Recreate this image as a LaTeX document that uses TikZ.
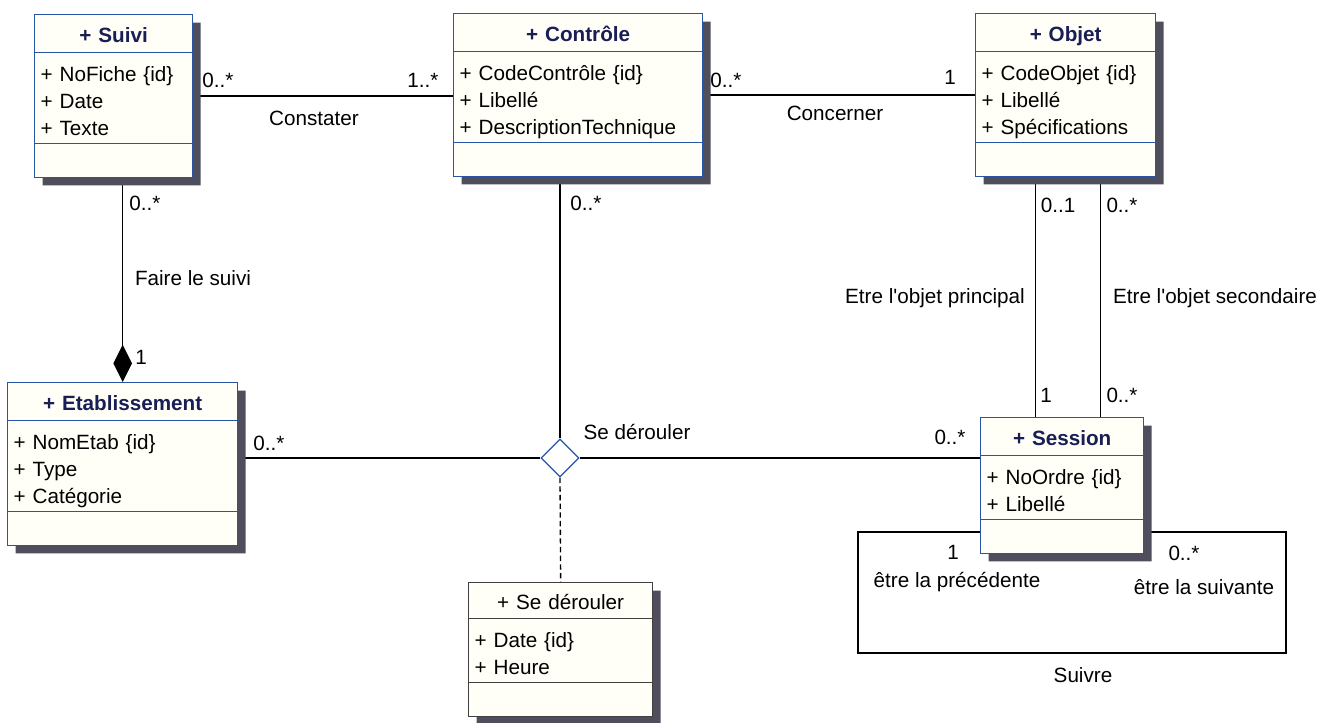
\documentclass[tikz,border=0pt]{standalone}
\usepackage{fontspec}
\setmainfont{Liberation Sans}
\usetikzlibrary{shapes.multipart,shapes.geometric,shadows,arrows.meta,backgrounds}
\setlength{\parindent}{0pt}

\definecolor{bordclasse}{RGB}{40,85,165}
\definecolor{titreclasse}{RGB}{25,30,85}
\definecolor{fondclasse}{RGB}{255,255,247}
\definecolor{ombre}{RGB}{78,78,92}

\newcommand{\titre}[1]{\rule[-7pt]{0pt}{27.5pt}\makebox[\linewidth][c]{\textcolor{titreclasse}{\textbf{#1}}}}
\newcommand{\titreassoc}[1]{\rule[-6.5pt]{0pt}{26pt}\makebox[\linewidth][c]{#1}}
\newcommand{\debattr}{\rule{0pt}{21pt}}
\newcommand{\finattr}{\rule[-5.5pt]{0pt}{0pt}}
\newcommand{\vide}{\rule{0pt}{24.5pt}}

\begin{document}
\begin{tikzpicture}[x=0.75pt,y=-0.75pt]
	\tikzstyle{classe} = [rectangle split, rectangle split parts=3, draw=bordclasse, fill=fondclasse, line width=1pt, inner xsep=4.5pt, inner ysep=0pt, anchor=north west, font=\fontsize{15.5}{20.25}\selectfont, drop shadow={shadow xshift=6pt, shadow yshift=-6pt, fill=ombre, opacity=1}]
	\tikzstyle{lien} = [line width=1pt]
	\tikzstyle{card} = [font=\fontsize{15.5}{18}\selectfont, inner sep=0pt]
	\tikzstyle{losange} = [diamond, draw=bordclasse, fill=white, line width=1pt, minimum width=28.5pt, minimum height=28.5pt, inner sep=0pt]

	\useasboundingbox (0,0) rectangle (1335,723);

%----------Les classes------------------------------
	\node[classe, text width=109.5pt] (suivi) at (34,14) {\titre{+ Suivi}
		\nodepart{two}\debattr+ NoFiche \{id\}\\+ Date\\+ Texte\finattr
		\nodepart{three}\vide};

	\node[classe, text width=177.75pt] (controle) at (453,13) {\titre{+ Contrôle}
		\nodepart{two}\debattr+ CodeContrôle \{id\}\\+ Libellé\\+ DescriptionTechnique\finattr
		\nodepart{three}\vide};

	\node[classe, text width=126pt] (objet) at (975,13) {\titre{+ Objet}
		\nodepart{two}\debattr+ CodeObjet \{id\}\\+ Libellé\\+ Spécifications\finattr
		\nodepart{three}\vide};

	\node[classe, text width=163.5pt] (etablissement) at (7,382) {\titre{+ Etablissement}
		\nodepart{two}\debattr+ NomEtab \{id\}\\+ Type\\+ Catégorie\finattr
		\nodepart{three}\vide};

	\node[classe, text width=113.25pt] (session) at (980,417) {\titre{+ Session}
		\nodepart{two}\debattr+ NoOrdre \{id\}\\+ Libellé\finattr
		\nodepart{three}\vide};

	\node[classe, draw=black!75, text width=129pt] (sederouler) at (468,582) {\titreassoc{+ Se dérouler}
		\nodepart{two}\debattr+ Date \{id\}\\+ Heure\finattr
		\nodepart{three}\vide};

	\node[losange] (assoc) at (560,458) {};

%----------Les associations------------------------------
	\coordinate (bouclehg) at (858,532);
	\coordinate (bouclebg) at (858,653);
	\coordinate (bouclebd) at (1286,653);
	\coordinate (bouclehd) at (1286,532);

	\begin{scope}[on background layer]
	\draw[lien] (suivi.east) -- (suivi.east -| controle.west);
	\draw[lien] (controle.east) -- (controle.east -| objet.west);
	\draw[lien, -{Diamond[length=28pt, width=14pt]}] (etablissement.north |- suivi.south) -- (etablissement.north);
	\draw[lien] (assoc.north) -- (assoc.north |- controle.south);
	\draw[lien] (assoc.west) -- (assoc.west -| etablissement.east);
	\draw[lien] (assoc.east) -- (assoc.east -| session.west);
	\draw[lien, dash pattern=on 4pt off 2.5pt] (assoc.south) -- (sederouler.north);
	\draw[lien] ([xshift=-22.5pt]objet.south) -- ([xshift=-22.5pt]objet.south |- session.north);
	\draw[lien] ([xshift=26.25pt]objet.south) -- ([xshift=26.25pt]objet.south |- session.north);
	\draw[lien] (session.west |- bouclehg) -- (bouclehg) -- (bouclebg) -- (bouclebd) -- (bouclehd) -- (session.east |- bouclehd);
	\end{scope}

%----------Les roles et cardinalites------------------------------
	\node[card] (cs1) at (218,80) {0..*};
	\node[card] (cs2) at (423,80) {1..*};
	\node[card] (nconst) at (314,118) {Constater};

	\node[card] (cc1) at (726,80) {0..*};
	\node[card] (cc2) at (950,77) {1};
	\node[card] (nconc) at (835,113) {Concerner};

	\node[card] (cf1) at (145,203) {0..*};
	\node[card] (cf2) at (141,357) {1};
	\node[card] (nfaire) at (193,278) {Faire le suivi};

	\node[card] (cd1) at (586,203) {0..*};
	\node[card] (cd2) at (269,443) {0..*};
	\node[card] (cd3) at (950,437) {0..*};
	\node[card] (nderoul) at (637,432) {Se dérouler};

	\node[card] (cp1) at (1058,205) {0..1};
	\node[card] (cp2) at (1046,395) {1};
	\node[card] (nprinc) at (935,298) {Etre l\textquotesingle objet principal};

	\node[card] (cx1) at (1122,205) {0..*};
	\node[card] (cx2) at (1122,395) {0..*};
	\node[card] (nsecond) at (1215,298) {Etre l\textquotesingle objet secondaire};

	\node[card] (cv1) at (953,552) {1};
	\node[card] (rprec) at (957,582) {être la précédente};
	\node[card] (cv2) at (1184,553) {0..*};
	\node[card] (rsuiv) at (1204,587) {être la suivante};
	\node[card] (nsuivre) at (1083,675) {Suivre};

\end{tikzpicture}
\end{document}
